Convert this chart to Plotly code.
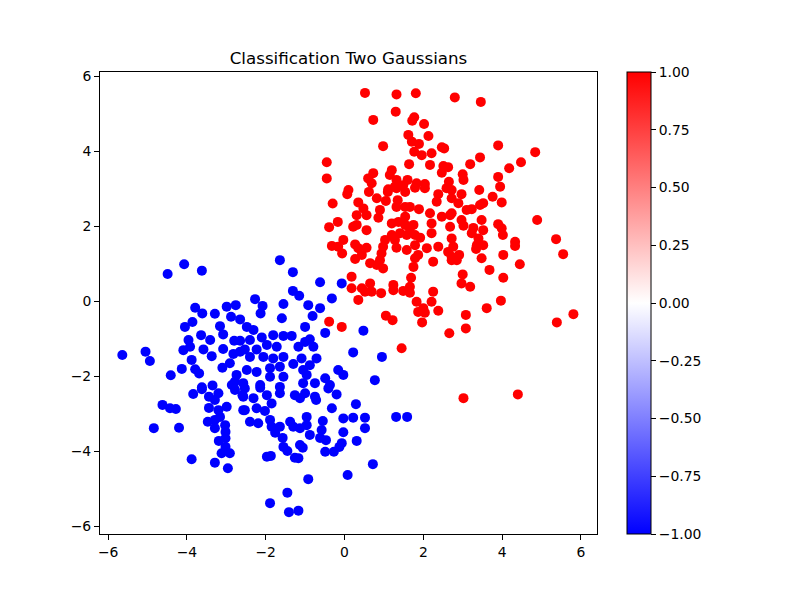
import plotly.graph_objects as go

# Class -1 (blue) points
blue_x = [-4.49, -4.07, -3.62, -3.79, -3.61, -3.29, -2.99, -2.76, -2.88, -2.65, -3.86, -4.05, -3.16, -3.08, -3.64,
          -3.96, -3.41, -2.80, -2.65, -4.09, -3.92, -3.58, -3.37, -3.08, -2.82, -2.65, -5.64, -5.05, -4.94, -3.88,
          -4.13, -3.79, -3.69, -4.41, -3.10, -2.91, -2.74, -2.78, -3.62, -3.35, -2.86, -3.84, -3.62, -3.44, -3.20,
          -3.29, -2.78, -2.59, -4.62, -4.43, -4.28, -3.44, -3.20, -2.99, -3.16, -2.57, -3.47, -3.29, -3.29, -3.03,
          -3.02, -4.84, -4.20, -3.19, -3.02, -3.02, -3.12, -2.91, -3.88, -3.29, -2.96, -1.64, -1.31, -0.62, -0.07,
          -1.31, -1.15, -2.27, -2.08, -2.13, -1.55, -0.92, -0.62, -0.32, -0.81, -1.59, -2.48, -2.31, -1.00, -0.49,
          0.48, -1.81, -1.55, -1.34, -2.10, -2.40, -0.88, -1.00, -0.79, -1.17, -1.97, -1.72, -2.23, -2.53, -2.40,
          -2.06, -1.81, -1.55, -1.09, -0.71, -1.30, -0.88, 0.22, 0.95, -2.48, -2.23, -1.89, -1.64, -1.05, -0.16,
          -0.03, -1.89, -1.55, -0.96, -0.49, -0.37, -2.14, -1.64, -1.05, -0.75, 0.77, -2.57, -2.53, -2.14, -1.64,
          -1.26, -1.13, -1.00, -0.75, -0.72, -0.41, -0.20, -2.57, -2.31, -1.97, -1.85, 0.29, -0.32, -2.53, -2.23,
          -2.02, -2.40, -2.19, -1.89, -1.85, -1.64, -1.76, -1.38, -1.30, -1.13, -0.96, -0.96, -0.88, -0.55, -0.58,
          -0.62, -0.47, -0.03, 0.22, 0.52, 0.52, -0.03, 0.31, -0.07, -0.13, -1.57, -1.55, -1.45, -1.13, -1.06,
          -0.49, -0.27, -1.97, -1.87, -1.26, -1.17, 0.72, 0.08, -0.92, -1.45, -1.89, -1.41, -1.17, 1.31, 1.59]
blue_y = [0.72, 0.98, 0.81, -0.18, -0.33, -0.34, -0.15, -0.11, -0.42, -0.49, -0.56, -0.69, -0.67, -0.89, -0.91,
          -1.04, -1.04, -1.06, -1.06, -1.31, -1.22, -1.29, -1.47, -1.28, -1.41, -1.35, -1.44, -1.35, -1.60, -1.57,
          -1.81, -1.82, -1.93, -1.98, -1.78, -1.66, -1.97, -2.15, -2.30, -2.25, -2.24, -2.48, -2.35, -2.55, -2.46,
          -2.64, -2.37, -2.51, -2.77, -2.86, -2.88, -2.85, -2.91, -2.82, -3.09, -2.91, -3.22, -3.17, -3.39, -3.31,
          -3.49, -3.39, -3.38, -3.73, -3.66, -3.89, -4.06, -4.06, -4.22, -4.31, -4.46, 1.09, 0.77, 0.50, 0.47,
          0.27, 0.14, 0.05, -0.13, -0.33, -0.08, -0.11, -0.19, 0.07, -0.40, -0.46, -0.69, -0.77, -0.69, -0.85,
          -0.79, -0.91, -0.93, -0.93, -0.97, -1.04, -1.02, -1.09, -1.22, -1.22, -1.17, -1.22, -1.29, -1.29, -1.49,
          -1.49, -1.53, -1.49, -1.53, -1.53, -1.68, -1.71, -1.37, -1.49, -1.84, -1.89, -1.79, -1.75, -1.84, -1.84,
          -1.97, -2.02, -2.02, -1.97, -2.06, -2.24, -2.24, -2.29, -2.19, -2.19, -2.11, -2.19, -2.33, -2.31, -2.46,
          -2.51, -2.59, -2.46, -2.55, -2.64, -2.33, -2.49, -2.55, -2.59, -2.51, -2.73, -2.75, -2.86, -2.91, -2.86,
          -2.93, -3.22, -3.26, -3.17, -3.35, -3.35, -3.51, -3.22, -3.35, -3.39, -3.09, -3.31, -3.57, -3.20, -3.44,
          -3.65, -3.71, -3.13, -3.11, -3.11, -3.39, -3.50, -3.73, -3.79, -3.89, -3.65, -3.89, -4.00, -3.84, -3.91,
          -4.02, -4.02, -4.15, -4.13, -4.18, -4.19, -4.35, -4.64, -4.75, -5.11, -5.39, -5.63, -5.59, -3.09, -3.09]

# Class +1 (red) points
red_x = [0.52, 1.32, 1.81, 2.80, 1.30, 0.73, 1.77, 1.72, 2.02, 1.62, 2.13, 1.71, 1.89, 0.98, 2.47, 2.53, 1.77,
         1.96, 2.21, 2.17, 1.64, 2.51, 2.63, 2.47, 2.65, -0.45, -0.45, 0.73, 0.60, 0.69, 1.20, 1.15, 1.32, 1.60,
         1.49, 1.83, 2.04, 1.28, 0.10, 1.11, 3.46, 3.90, 4.84, 3.44, 3.19, 4.48, 4.18, 3.00, 3.02, 3.90, 3.95,
         3.42, -0.30, 0.07, 0.35, 0.48, 0.62, 0.82, 1.05, 1.10, 1.32, 1.54, 1.79, 2.04, 1.35, 1.32, 1.54, 1.66,
         1.89, 2.34, 2.38, 2.59, 2.72, 0.90, 0.86, 0.56, 0.31, 1.54, 2.17, 2.47, 2.68, -0.17, -0.39, 0.22, 0.31,
         0.56, 1.20, 1.37, 1.54, 1.66, 1.75, 2.21, 2.21, 2.68, 1.20, 1.41, 1.58, 1.79, 1.92, 2.72, -0.32, -0.03,
         -0.16, -0.06, 0.27, 0.35, 0.56, 1.03, 0.98, 1.28, 1.32, 1.58, 1.79, 2.09, 2.38, 2.63, 0.44, 0.27, 0.94,
         0.90, 1.87, 1.79, 2.25, 2.72, 0.65, 0.82, 0.98, 1.75, 0.18, 0.18, 0.44, 0.65, 0.69, 1.24, 1.69, 1.66,
         1.49, 2.25, 2.72, 2.97, 3.76, 3.99, 2.89, 3.10, 3.23, 3.44, 3.52, 2.72, 3.48, 2.97, 3.02, 3.27, 3.52,
         3.90, 3.99, 4.02, 3.23, 3.40, 4.89, 5.37, 5.55, 4.33, 4.33, 2.76, 3.36, 3.52, 3.34, 4.03, 3.48, 2.91,
         2.85, 4.45, 3.68, 4.03, 3.00, 2.97, 3.19, 2.72, 0.52, 0.93, 1.24, 1.66, 0.35, 1.83, 2.21, 1.87, 2.00,
         2.04, 2.38, 1.05, 1.22, 1.97, -0.39, -0.07, 2.66, 1.45, 3.08, 3.61, 3.97, 3.08, 5.39, 5.81, 3.02, 4.40]
red_y = [5.55, 5.51, 5.54, 5.43, 5.05, 4.83, 4.90, 4.81, 4.72, 4.43, 4.40, 4.25, 4.19, 4.13, 4.10, 4.07, 3.98,
         3.89, 3.94, 3.63, 3.65, 3.60, 3.57, 3.42, 3.18, 3.70, 3.27, 3.41, 3.27, 3.14, 3.49, 3.36, 3.23, 3.23,
         3.09, 3.14, 3.12, 3.05, 2.96, 2.98, 5.31, 4.15, 3.97, 3.83, 3.65, 3.70, 3.54, 3.38, 3.23, 3.31, 3.05,
         2.96, 2.60, 2.85, 2.63, 2.47, 2.91, 2.74, 2.67, 2.91, 3.01, 2.91, 3.02, 3.01, 2.69, 2.51, 2.51, 2.51,
         2.45, 2.65, 2.85, 3.01, 2.74, 2.43, 2.22, 2.29, 2.29, 2.25, 2.34, 2.25, 2.29, 2.11, 1.97, 1.98, 2.03,
         1.89, 2.07, 2.11, 2.03, 1.94, 2.03, 2.07, 1.81, 1.98, 1.76, 1.81, 1.76, 1.76, 1.69, 1.67, 1.47, 1.63,
         1.45, 1.27, 1.51, 1.41, 1.42, 1.63, 1.45, 1.63, 1.42, 1.36, 1.49, 1.41, 1.45, 1.31, 1.23, 1.12, 1.27,
         1.09, 1.23, 1.14, 1.05, 1.09, 1.01, 0.96, 0.87, 0.91, 0.65, 0.34, 0.34, 0.47, 0.25, 0.43, 0.62, 0.38,
         0.27, 0.25, 2.96, 2.85, 2.78, 2.63, 2.61, 2.43, 2.45, 2.56, 2.61, 2.34, 2.16, 2.16, 2.01, 1.95, 1.89,
         2.05, 1.94, 1.76, 1.81, 1.67, 2.16, 1.65, 1.25, 1.58, 1.47, 1.45, 1.49, 1.49, 1.39, 1.23, 1.14, 1.23,
         1.09, 0.98, 0.83, 0.62, 0.71, 0.47, 0.38, 1.18, 0.25, 0.21, 0.29, 0.22, 0.03, -0.02, -0.02, -0.29, -0.19,
         -0.31, -0.26, -0.39, -0.51, -0.57, -0.55, -0.69, -0.86, -1.26, -0.37, -0.19, 0.01, -0.73, -0.57, -0.35,
         -2.59, -2.49]

x_ticks = [-6, -4, -2, 0, 2, 4, 6]
y_ticks = [-6, -4, -2, 0, 2, 4, 6]
cbar_ticks = [-1.0, -0.75, -0.5, -0.25, 0.0, 0.25, 0.5, 0.75, 1.0]

xs = blue_x + red_x
ys = blue_y + red_y
labels = [-1] * len(blue_x) + [1] * len(red_x)

bwr = [[0.0, "rgb(0,0,255)"], [0.5, "rgb(255,255,255)"], [1.0, "rgb(255,0,0)"]]

font = dict(family="DejaVu Sans", size=13.9, color="black")

fig = go.Figure(go.Scatter(
    x=xs, y=ys, mode="markers",
    marker=dict(
        size=10, color=labels, colorscale=bwr, cmin=-1, cmax=1, line=dict(width=0),
        showscale=True,
        colorbar=dict(
            x=(627 - 100) / 497, xanchor="left", xpad=0, ypad=0,
            y=0.5, yanchor="middle", len=1, lenmode="fraction",
            thickness=24, thicknessmode="pixels",
            outlinewidth=1, outlinecolor="black",
            ticks="outside", ticklen=5, tickwidth=1, tickcolor="black",
            tickvals=cbar_ticks, tickformat=".2f", tickfont=font,
        ),
    ),
))

axis_common = dict(
    showgrid=False, zeroline=False, showline=True, mirror=True,
    linecolor="black", linewidth=1, ticks="outside", ticklen=5, tickwidth=1,
    tickcolor="black", tickfont=font,
)

fig.update_layout(
    width=800, height=600,
    margin=dict(l=100, r=203, t=72, b=66),
    paper_bgcolor="white", plot_bgcolor="white",
    showlegend=False,
    title=dict(text="Classification Two Gaussians", x=0.5, xref="paper",
               xanchor="center", y=1 - 58 / 600, yanchor="middle",
               font=dict(family="DejaVu Sans", size=16.7, color="black")),
    xaxis=dict(range=[-6.206, 6.409], tickvals=x_ticks, **axis_common),
    yaxis=dict(range=[-6.213, 6.107], tickvals=y_ticks, **axis_common),
)

fig.write_html("out.html")
